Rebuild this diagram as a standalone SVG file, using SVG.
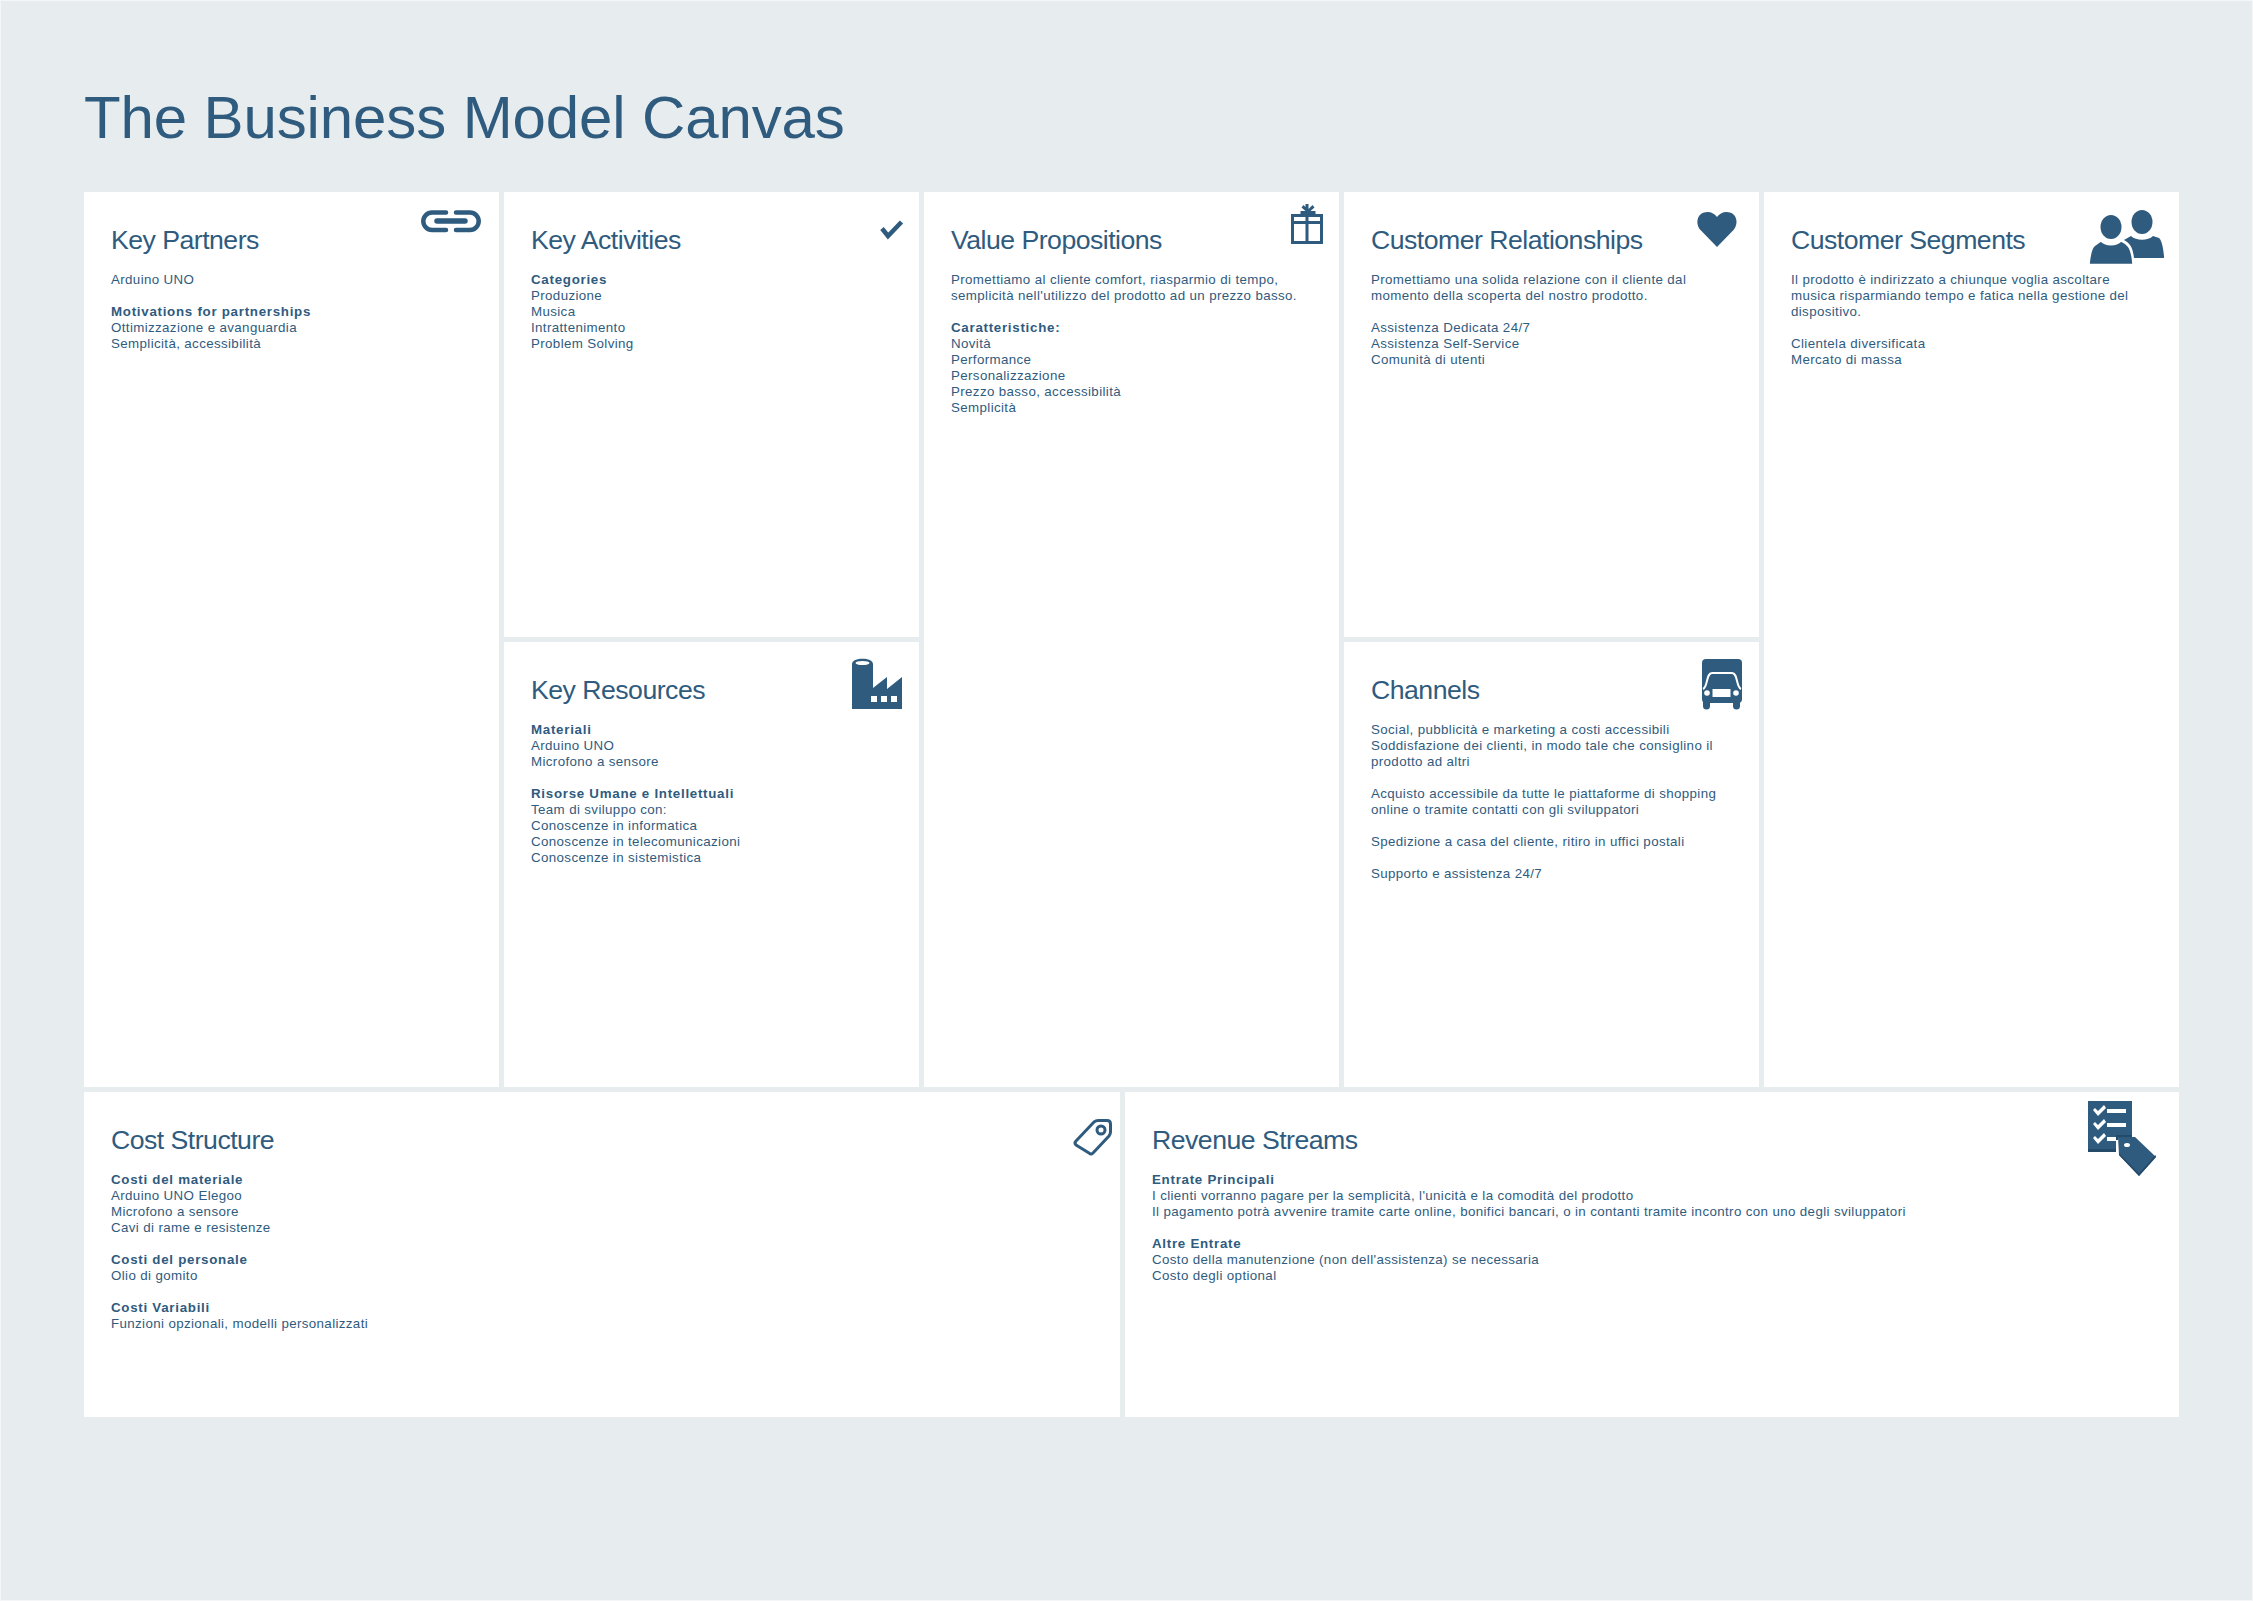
<svg xmlns="http://www.w3.org/2000/svg" width="2253" height="1601" viewBox="0 0 2253 1601">
<style>
text{font-family:"Liberation Sans",Arial,sans-serif;fill:#2f5b7e}
.h{font-size:26.67px;letter-spacing:-.52px}
.t{font-size:60px;letter-spacing:-.12px}
.b{font-size:13.33px;letter-spacing:.37px}
.s{font-weight:bold;letter-spacing:.72px}
.c{fill:#fff}
.i{fill:#2f5b7e}
.o{fill:none;stroke:#2f5b7e}
.w{fill:#fff}
</style>
<rect width="2253" height="1601" fill="#f4f6f7"/>
<rect x="1" y="1" width="2251" height="1599" fill="#e7ecef"/>
<text id="title" class="t" x="84" y="138">The Business Model Canvas</text>
<g id="key-partners"><rect class="c" x="84" y="192" width="415" height="895"/>
<text class="h" x="111" y="249">Key Partners</text>
<text class="b" x="111"><tspan x="111" y="284">Arduino UNO</tspan><tspan x="111" y="316" class="s">Motivations for partnerships</tspan><tspan x="111" y="332">Ottimizzazione e avanguardia</tspan><tspan x="111" y="348">Semplicità, accessibilità</tspan></text>
<g class="o" stroke-width="4.500" stroke-linecap="round"><path d="M446 212.500H432a8.700 8.700 0 0 0 0 17.400H446"/><path d="M456 212.500H470a8.700 8.700 0 0 1 0 17.400H456"/><path d="M437 221H465" stroke-width="5.500"/></g></g>
<g id="key-activities"><rect class="c" x="504" y="192" width="415" height="445"/>
<text class="h" x="531" y="249">Key Activities</text>
<text class="b"><tspan x="531" y="284" class="s">Categories</tspan><tspan x="531" y="300">Produzione</tspan><tspan x="531" y="316">Musica</tspan><tspan x="531" y="332">Intrattenimento</tspan><tspan x="531" y="348">Problem Solving</tspan></text>
<path class="o" stroke-width="4.500" d="M882 228.500L888 236L901.500 222"/></g>
<g id="key-resources"><rect class="c" x="504" y="642" width="415" height="445"/>
<text class="h" x="531" y="699">Key Resources</text>
<text class="b"><tspan x="531" y="734" class="s">Materiali</tspan><tspan x="531" y="750">Arduino UNO</tspan><tspan x="531" y="766">Microfono a sensore</tspan><tspan x="531" y="798" class="s">Risorse Umane e Intellettuali</tspan><tspan x="531" y="814">Team di sviluppo con:</tspan><tspan x="531" y="830">Conoscenze in informatica</tspan><tspan x="531" y="846">Conoscenze in telecomunicazioni</tspan><tspan x="531" y="862">Conoscenze in sistemistica</tspan></text>
<path class="i" d="M852 664C852 657 873 657 873 664V688L887 677V689L902 677V709H852Z"/><ellipse class="w" cx="862.500" cy="663" rx="7" ry="2"/><path class="w" d="M871 696h6v6h-6zM881 696h6v6h-6zM891 696h6v6h-6z"/></g>
<g id="value-propositions"><rect class="c" x="924" y="192" width="415" height="895"/>
<text class="h" x="951" y="249">Value Propositions</text>
<text class="b"><tspan x="951" y="284">Promettiamo al cliente comfort, riasparmio di tempo,</tspan><tspan x="951" y="300">semplicità nell'utilizzo del prodotto ad un prezzo basso.</tspan><tspan x="951" y="332" class="s">Caratteristiche:</tspan><tspan x="951" y="348">Novità</tspan><tspan x="951" y="364">Performance</tspan><tspan x="951" y="380">Personalizzazione</tspan><tspan x="951" y="396">Prezzo basso, accessibilità</tspan><tspan x="951" y="412">Semplicità</tspan></text>
<path class="o" stroke-width="3" fill="none" d="M1292.500 215.500H1321.500V242.500H1292.500ZM1292.500 222.500H1321.500M1307 215.500V242.500"/><path class="i" d="M1305.500 204h3v5l4-4 2 2.500-4 3.500h5v3h-15v-3h5l-4-3.500 2-2.500 2 2z"/></g>
<g id="customer-relationships"><rect class="c" x="1344" y="192" width="415" height="445"/>
<text class="h" x="1371" y="249">Customer Relationships</text>
<text class="b"><tspan x="1371" y="284">Promettiamo una solida relazione con il cliente dal</tspan><tspan x="1371" y="300">momento della scoperta del nostro prodotto.</tspan><tspan x="1371" y="332">Assistenza Dedicata 24/7</tspan><tspan x="1371" y="348">Assistenza Self-Service</tspan><tspan x="1371" y="364">Comunità di utenti</tspan></text>
<path class="i" d="M1717 247L1700.500 230C1694.500 223 1697.500 212 1707.500 212C1711.500 212 1715 214 1717 217C1719 214 1722.500 212 1726.500 212C1736.500 212 1739.500 223 1733.500 230Z"/></g>
<g id="channels"><rect class="c" x="1344" y="642" width="415" height="445"/>
<text class="h" x="1371" y="699">Channels</text>
<text class="b"><tspan x="1371" y="734">Social, pubblicità e marketing a costi accessibili</tspan><tspan x="1371" y="750">Soddisfazione dei clienti, in modo tale che consiglino il</tspan><tspan x="1371" y="766">prodotto ad altri</tspan><tspan x="1371" y="798">Acquisto accessibile da tutte le piattaforme di shopping</tspan><tspan x="1371" y="814">online o tramite contatti con gli sviluppatori</tspan><tspan x="1371" y="846">Spedizione a casa del cliente, ritiro in uffici postali</tspan><tspan x="1371" y="878">Supporto e assistenza 24/7</tspan></text>
<rect class="i" x="1702" y="659" width="40" height="44" rx="4"/><path class="i" d="M1703 700h7v6a3.500 3.500 0 0 1-7 0zM1733 700h7v6a3.500 3.500 0 0 1-7 0z"/><path fill="none" stroke="#fff" stroke-width="2" d="M1703 689C1708 687 1706 673 1712 673H1732C1738 673 1736 687 1741 689"/><rect class="w" x="1712.500" y="689" width="18" height="8"/><circle class="w" cx="1707" cy="693" r="2.800"/><circle class="w" cx="1736" cy="693" r="2.800"/></g>
<g id="customer-segments"><rect class="c" x="1764" y="192" width="415" height="895"/>
<text class="h" x="1791" y="249">Customer Segments</text>
<text class="b"><tspan x="1791" y="284">Il prodotto è indirizzato a chiunque voglia ascoltare</tspan><tspan x="1791" y="300">musica risparmiando tempo e fatica nella gestione del</tspan><tspan x="1791" y="316">dispositivo.</tspan><tspan x="1791" y="348">Clientela diversificata</tspan><tspan x="1791" y="364">Mercato di massa</tspan></text>
<ellipse class="i" cx="2142" cy="222" rx="10.500" ry="12"/><path class="i" d="M2124 240L2131 236C2136 241 2148 241 2153 236L2159 238C2162 240 2164 252 2164 258H2134C2133 248 2130 243 2124 240Z"/><ellipse class="i" cx="2111" cy="227" rx="10.500" ry="12"/><path class="i" stroke="#fff" stroke-width="1.500" d="M2089 264.500C2090 254 2091 247 2095 245L2101 241C2106 246 2116 246 2121 241C2128 244 2132 248 2133 264.500Z"/></g>
<g id="cost-structure"><rect class="c" x="84" y="1092" width="1036" height="325"/>
<text class="h" x="111" y="1149">Cost Structure</text>
<text class="b"><tspan x="111" y="1184" class="s">Costi del materiale</tspan><tspan x="111" y="1200">Arduino UNO Elegoo</tspan><tspan x="111" y="1216">Microfono a sensore</tspan><tspan x="111" y="1232">Cavi di rame e resistenze</tspan><tspan x="111" y="1264" class="s">Costi del personale</tspan><tspan x="111" y="1280">Olio di gomito</tspan><tspan x="111" y="1312" class="s">Costi Variabili</tspan><tspan x="111" y="1328">Funzioni opzionali, modelli personalizzati</tspan></text>
<path class="o" stroke-width="3" stroke-linejoin="round" d="M1076 1141L1094 1122Q1096 1120.500 1098 1120.500H1107Q1110.500 1120.500 1110.500 1124V1132Q1110.500 1134 1109 1136L1093 1153Q1091 1155 1089 1153L1076 1145Q1074 1143 1076 1141Z"/><circle class="o" stroke-width="3" cx="1101" cy="1130" r="4"/></g>
<g id="revenue-streams"><rect class="c" x="1125" y="1092" width="1054" height="325"/>
<text class="h" x="1152" y="1149">Revenue Streams</text>
<text class="b"><tspan x="1152" y="1184" class="s">Entrate Principali</tspan><tspan x="1152" y="1200">I clienti vorranno pagare per la semplicità, l'unicità e la comodità del prodotto</tspan><tspan x="1152" y="1216">Il pagamento potrà avvenire tramite carte online, bonifici bancari, o in contanti tramite incontro con uno degli sviluppatori</tspan><tspan x="1152" y="1248" class="s">Altre Entrate</tspan><tspan x="1152" y="1264">Costo della manutenzione (non dell'assistenza) se necessaria</tspan><tspan x="1152" y="1280">Costo degli optional</tspan></text>
<rect class="i" x="2088" y="1101" width="44" height="51"/><rect x="2088" y="1149" width="44" height="3" fill="#234a68"/><path class="w" d="M2093 1110l2-2 3 3 6-6 2 3-8 8zM2093 1124l2-2 3 3 6-6 2 3-8 8zM2093 1138l2-2 3 3 6-6 2 3-8 8zM2107 1109h19v4h-19zM2107 1123h19v4h-19zM2107 1137h11v4h-11z"/><path d="M2116 1135H2136L2158 1157L2139 1178L2116 1156Z" fill="#fff"/><path class="i" d="M2118 1137H2135L2156 1157L2139 1176L2119 1155Z"/><path d="M2119 1155L2139 1176L2156 1157L2155.500 1155L2139 1173.500L2119 1153Z" fill="#234a68"/><path d="M2116 1135H2132V1137H2118V1140H2116Z" fill="#234a68"/><ellipse class="w" cx="2127" cy="1145" rx="3" ry="2"/></g>
</svg>
